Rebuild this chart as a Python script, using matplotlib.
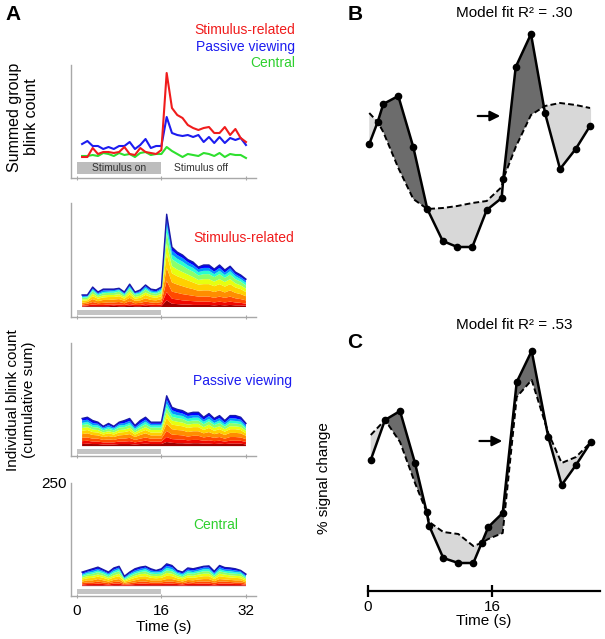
import numpy as np
import matplotlib
matplotlib.use('Agg')
import matplotlib.pyplot as plt

plt.rcParams['font.family'] = ['Liberation Sans', 'DejaVu Sans']

# ---- panel A data ----
t_blink = np.arange(1, 33)
stim_on = (0, 16)

# summed group blink count
red_sum = [21, 21, 30, 24, 26, 26, 25, 26, 31, 24, 23, 30, 26, 25, 24, 28,
           105, 70, 63, 60, 53, 50, 48, 50, 51, 45, 45, 51, 43, 49, 40, 36]
blue_sum = [34, 37, 32, 32, 29, 31, 29, 32, 32, 36, 29, 33, 39, 30, 32, 32,
            61, 45, 43, 42, 43, 41, 43, 36, 41, 35, 41, 35, 40, 38, 40, 33]
green_sum = [22, 22, 23, 22, 25, 24, 22, 25, 23, 24, 21, 25, 26, 23, 24, 24,
             31, 27, 24, 21, 24, 23, 22, 25, 24, 22, 25, 21, 24, 23, 23, 20]

# individual blink counts (layers, bottom to top)
stim_layers = [
    [1, 2, 2, 2, 2, 2, 3, 2, 2, 3, 2, 2, 3, 2, 2, 2, 16, 8, 7, 6, 6, 5, 5, 5, 5, 4, 5, 4, 5, 4, 4, 3],
    [2, 2, 4, 3, 3, 4, 3, 4, 3, 4, 3, 3, 4, 4, 3, 4, 20, 12, 11, 10, 9, 9, 8, 8, 8, 7, 8, 7, 8, 7, 6, 5],
    [3, 4, 6, 4, 5, 5, 5, 6, 4, 7, 4, 5, 6, 5, 5, 6, 27, 17, 16, 15, 14, 13, 12, 12, 12, 11, 12, 11, 12, 10, 9, 8],
    [4, 4, 7, 5, 7, 6, 7, 7, 6, 8, 6, 6, 8, 6, 6, 7, 32, 22, 20, 19, 17, 16, 14, 15, 15, 14, 15, 13, 15, 13, 12, 10],
    [5, 4, 7, 6, 6, 7, 6, 7, 5, 8, 5, 6, 8, 7, 6, 7, 32, 22, 20, 19, 18, 16, 15, 15, 15, 14, 15, 14, 15, 13, 12, 10],
    [3, 3, 6, 4, 5, 5, 5, 5, 4, 7, 4, 5, 6, 5, 5, 6, 26, 17, 16, 15, 14, 13, 11, 12, 12, 11, 12, 11, 12, 10, 9, 8],
    [4, 4, 6, 4, 5, 5, 5, 6, 4, 7, 5, 5, 7, 5, 5, 6, 26, 17, 16, 15, 13, 13, 11, 12, 12, 11, 12, 10, 11, 10, 9, 8],
    [2, 2, 4, 3, 3, 3, 4, 4, 3, 4, 3, 3, 4, 3, 3, 4, 18, 11, 10, 10, 9, 9, 8, 8, 8, 7, 8, 7, 8, 7, 6, 6],
    [3, 2, 3, 3, 4, 3, 3, 2, 3, 4, 2, 3, 4, 3, 3, 3, 14, 10, 9, 9, 8, 7, 7, 7, 7, 6, 7, 6, 7, 5, 5, 5],
    [2, 2, 3, 2, 3, 3, 2, 2, 2, 3, 2, 3, 3, 3, 3, 3, 12, 8, 7, 7, 6, 7, 5, 7, 7, 6, 7, 6, 5, 5, 5, 4],
]
passive_layers = [
    [5, 6, 5, 5, 4, 4, 4, 5, 5, 5, 4, 5, 6, 5, 5, 5, 10, 8, 7, 7, 6, 7, 7, 6, 6, 5, 6, 5, 6, 6, 6, 4],
    [7, 7, 6, 6, 5, 5, 5, 6, 6, 7, 5, 6, 7, 6, 6, 6, 12, 9, 9, 9, 8, 8, 8, 7, 8, 7, 7, 6, 7, 7, 7, 6],
    [8, 8, 7, 7, 6, 7, 6, 7, 7, 8, 6, 7, 8, 7, 7, 7, 15, 11, 11, 10, 9, 10, 10, 8, 9, 8, 9, 7, 9, 9, 8, 7],
    [9, 10, 9, 8, 7, 8, 7, 8, 9, 9, 7, 9, 10, 8, 8, 8, 17, 13, 12, 12, 11, 11, 11, 10, 11, 9, 10, 9, 10, 10, 10, 8],
    [8, 8, 7, 7, 6, 7, 6, 7, 7, 8, 6, 7, 8, 7, 7, 7, 15, 11, 11, 10, 10, 10, 10, 8, 10, 8, 9, 8, 9, 9, 8, 6],
    [7, 7, 6, 6, 5, 5, 5, 6, 6, 7, 5, 6, 7, 6, 6, 6, 12, 10, 9, 9, 8, 8, 8, 7, 8, 7, 7, 6, 7, 7, 7, 6],
    [7, 7, 6, 6, 5, 6, 5, 6, 6, 7, 5, 6, 7, 6, 6, 6, 12, 9, 9, 9, 8, 8, 8, 7, 8, 7, 8, 6, 8, 7, 7, 5],
    [5, 6, 5, 5, 4, 4, 4, 5, 5, 5, 4, 5, 6, 5, 5, 5, 10, 8, 7, 7, 6, 7, 7, 6, 6, 5, 6, 5, 6, 6, 6, 4],
    [6, 5, 5, 4, 3, 5, 3, 4, 5, 5, 4, 5, 5, 4, 4, 4, 10, 8, 7, 6, 7, 6, 6, 5, 7, 6, 6, 5, 6, 6, 5, 5],
    [5, 6, 6, 4, 3, 4, 3, 4, 6, 6, 4, 6, 6, 4, 4, 4, 9, 7, 7, 7, 6, 7, 7, 6, 6, 5, 6, 5, 6, 7, 6, 4],
]
central_layers = [
    [1, 2, 2, 2, 2, 1, 2, 2, 1, 1, 2, 2, 2, 2, 2, 2, 2, 2, 2, 1, 2, 2, 2, 2, 2, 1, 2, 2, 2, 2, 2, 1],
    [3, 3, 3, 4, 3, 3, 4, 4, 2, 3, 3, 4, 4, 3, 3, 3, 4, 4, 3, 3, 4, 3, 4, 4, 4, 3, 4, 4, 4, 3, 3, 2],
    [3, 4, 4, 5, 4, 3, 4, 5, 2, 3, 4, 5, 5, 4, 4, 4, 5, 5, 4, 3, 4, 4, 5, 5, 5, 4, 5, 5, 4, 4, 4, 3],
    [4, 5, 5, 6, 5, 4, 5, 6, 3, 4, 5, 6, 6, 5, 5, 5, 6, 6, 5, 4, 5, 5, 5, 6, 6, 4, 6, 5, 5, 5, 5, 3],
    [5, 5, 6, 6, 6, 5, 6, 7, 3, 5, 6, 6, 7, 6, 5, 6, 8, 7, 5, 5, 6, 6, 6, 7, 7, 5, 7, 6, 6, 6, 5, 4],
    [4, 5, 5, 5, 5, 4, 5, 6, 3, 4, 5, 6, 6, 5, 5, 5, 7, 6, 5, 4, 5, 5, 6, 6, 6, 4, 6, 6, 5, 5, 5, 4],
    [4, 4, 5, 6, 5, 4, 6, 6, 3, 4, 5, 5, 6, 5, 5, 5, 6, 6, 4, 4, 5, 5, 5, 6, 6, 4, 6, 5, 5, 5, 5, 3],
    [3, 4, 4, 4, 4, 4, 4, 5, 2, 4, 4, 4, 5, 4, 4, 4, 6, 5, 4, 4, 5, 4, 4, 5, 5, 4, 5, 4, 5, 4, 4, 3],
    [3, 3, 4, 4, 3, 3, 4, 4, 3, 3, 4, 4, 4, 4, 3, 4, 5, 5, 3, 3, 4, 4, 4, 4, 4, 3, 5, 4, 4, 4, 3, 3],
    [4, 3, 4, 4, 3, 3, 4, 3, 2, 3, 4, 4, 3, 4, 2, 4, 5, 4, 3, 3, 4, 4, 4, 3, 4, 4, 4, 4, 4, 4, 2, 3],
]

# ---- panel B / C data (% signal change) ----
t_b = [0.2, 1.28, 2.0, 3.93, 5.85, 7.65, 9.63, 11.5, 13.43, 15.28, 17.2, 17.4,
       19.0, 20.96, 22.76, 24.69, 26.7, 28.54]
data_b = [0.56, 0.78, 0.96, 1.04, 0.53, -0.09, -0.41, -0.47, -0.47, -0.10, 0.02, 0.21,
          1.33, 1.66, 0.87, 0.31, 0.51, 0.74]
model_b = [0.87, 0.78, 0.68, 0.32, 0.01, -0.09, -0.08, -0.06, -0.03, -0.01, 0.13, 0.21,
           0.53, 0.85, 0.94, 0.97, 0.95, 0.92]

t_c = [0.39, 2.22, 4.15, 6.07, 7.57, 7.9, 9.7, 11.63, 13.56, 14.63, 15.48, 17.33,
       19.13, 21.05, 23.18, 24.9, 26.74, 28.66]
data_c = [0.60, 1.00, 1.09, 0.57, 0.08, -0.06, -0.38, -0.43, -0.43, -0.23, -0.07, 0.07,
          1.38, 1.69, 0.83, 0.35, 0.55, 0.78]
model_c = [0.85, 1.00, 0.78, 0.37, 0.08, -0.02, -0.12, -0.14, -0.26, -0.23, -0.19, -0.13,
           1.23, 1.40, 0.87, 0.57, 0.63, 0.78]

# jet positions for the stacked layers (bottom -> top), warm colours dominate
layer_cpos = [0.97, 0.9, 0.83, 0.76, 0.69, 0.63, 0.52, 0.4, 0.27, 0.12]

W, H = 605, 639
fig = plt.figure(figsize=(W / 100, H / 100), dpi=100)


def box(x0, y0, x1, y1):
    return [x0 / W, 1 - y1 / H, (x1 - x0) / W, (y1 - y0) / H]


gray_ax = '#a8a8a8'


def left_axes(y0, y1):
    ax = fig.add_axes(box(71, y0, 256, y1))
    ax.set_xlim(-1.1, 33.9)
    for s in ['top', 'right']:
        ax.spines[s].set_visible(False)
    for s in ['left', 'bottom']:
        ax.spines[s].set_color(gray_ax)
        ax.spines[s].set_linewidth(1.0)
    ax.set_xticks([0, 16, 32])
    ax.tick_params(axis='x', direction='inout', length=3, color=gray_ax, labelbottom=False)
    ax.set_yticks([])
    return ax


# panel A top: summed group
ax1 = left_axes(65, 178)
ax1.set_ylim(0, 113)
ax1.fill_between(stim_on, 4, 16, color='#bdbdbd', lw=0)
ax1.text(8, 10, 'Stimulus on', ha='center', va='center', fontsize=7.5, color='#333333')
ax1.text(23.5, 10, 'Stimulus off', ha='center', va='center', fontsize=7.5, color='#333333')
ax1.plot(t_blink, green_sum, color='#2ee02e', lw=1.5)
ax1.plot(t_blink, blue_sum, color='#1c1cf0', lw=1.5)
ax1.plot(t_blink, red_sum, color='#f01c1c', lw=1.5)

fig.text(295 / W, 1 - 30 / H, 'Stimulus-related', color='#f01c1c', fontsize=10, ha='right', va='center')
fig.text(295 / W, 1 - 47 / H, 'Passive viewing', color='#1c1cf0', fontsize=10, ha='right', va='center')
fig.text(295 / W, 1 - 63 / H, 'Central', color='#2ed02e', fontsize=10, ha='right', va='center')
fig.text(23 / W, 1 - 117 / H, 'Summed group\nblink count', rotation=90, fontsize=11.5,
         ha='center', va='center', linespacing=1.1)

stack_panels = [
    (stim_layers, 203, 317, 'Stimulus-related', '#f01c1c', 238),
    (passive_layers, 343, 456, 'Passive viewing', '#1c1cf0', 381),
    (central_layers, 483, 596, 'Central', '#2ed02e', 525),
]
axes_stack = []
for layers, y0, y1, label, col, ly in stack_panels:
    ax = left_axes(y0, y1)
    ax.set_ylim(-24, 250)
    colors = plt.cm.jet(layer_cpos)
    ax.stackplot(t_blink, layers, colors=colors, lw=0)
    ax.plot(t_blink, np.sum(layers, axis=0), color='#1a1aa8', lw=1.0)
    ax.fill_between(stim_on, -19, -8, color='#c4c4c4', lw=0)
    fig.text(193 / W, 1 - ly / H, label, color=col, fontsize=10, ha='left', va='center')
    axes_stack.append(ax)

ax4 = axes_stack[-1]
ax4.set_yticks([250])
ax4.tick_params(axis='y', length=0, labelsize=11, pad=3)
ax4.tick_params(axis='x', labelbottom=True, labelsize=11, pad=4)
ax4.set_xlabel('Time (s)', fontsize=11, labelpad=2)

fig.text(21 / W, 1 - 400 / H, 'Individual blink count\n(cumulative sum)', rotation=90,
         fontsize=11, ha='center', va='center', linespacing=1.1)

fig.text(13 / W, 1 - 15 / H, 'A', fontsize=15, fontweight='bold', ha='center', va='center')
fig.text(355 / W, 1 - 15 / H, 'B', fontsize=15, fontweight='bold', ha='center', va='center')
fig.text(355 / W, 1 - 343 / H, 'C', fontsize=15, fontweight='bold', ha='center', va='center')


# panels B and C
def model_axes(y0, y1, ylim):
    ax = fig.add_axes(box(367.7, y0, 600, y1))
    ax.set_xlim(0, 29.82)
    ax.set_ylim(*ylim)
    for s in ['top', 'right', 'left']:
        ax.spines[s].set_visible(False)
    ax.set_yticks([])
    return ax


def draw_fit(ax, t, data, model):
    t = np.array(t)
    d = np.array(data)
    m = np.array(model)
    ax.fill_between(t, d, m, where=d >= m, interpolate=True, color='#6c6c6c', lw=0)
    ax.fill_between(t, d, m, where=d <= m, interpolate=True, color='#d8d8d8', lw=0)
    ax.plot([t[-1], t[-1]], [d[-1], m[-1]], color='#d8d8d8', lw=0.8)
    ax.plot(t, m, color='k', lw=1.4, ls=(0, (3, 1.6)))
    ax.plot(t, d, color='k', lw=1.8, marker='o', ms=4.5, clip_on=False)


axB = model_axes(20, 260, (-0.6, 1.8))
axB.spines['bottom'].set_visible(False)
axB.set_xticks([])
draw_fit(axB, t_b, data_b, model_b)
axB.annotate('', xy=(17.37, 0.84), xytext=(13.77, 0.84),
             arrowprops=dict(arrowstyle='-|>', color='k', lw=1.6, mutation_scale=15))
fig.text(514 / W, 1 - 13 / H, 'Model fit R² = .30', fontsize=11, ha='center', va='center')

axC = model_axes(330, 591, (-0.71, 1.9))
axC.spines['bottom'].set_linewidth(1.6)
axC.spines['bottom'].set_color('k')
axC.set_xticks([0, 16])
axC.tick_params(axis='x', direction='inout', length=9, width=1.6, labelsize=11, pad=2)
axC.set_xlabel('Time (s)', fontsize=11, labelpad=0)
draw_fit(axC, t_c, data_c, model_c)
axC.annotate('', xy=(17.63, 0.79), xytext=(13.99, 0.79),
             arrowprops=dict(arrowstyle='-|>', color='k', lw=1.6, mutation_scale=15))
fig.text(514 / W, 1 - 325 / H, 'Model fit R² = .53', fontsize=11, ha='center', va='center')
fig.text(324 / W, 1 - 478 / H, '% signal change', rotation=90, fontsize=11,
         ha='center', va='center')

fig.savefig('out.png', dpi=100)
